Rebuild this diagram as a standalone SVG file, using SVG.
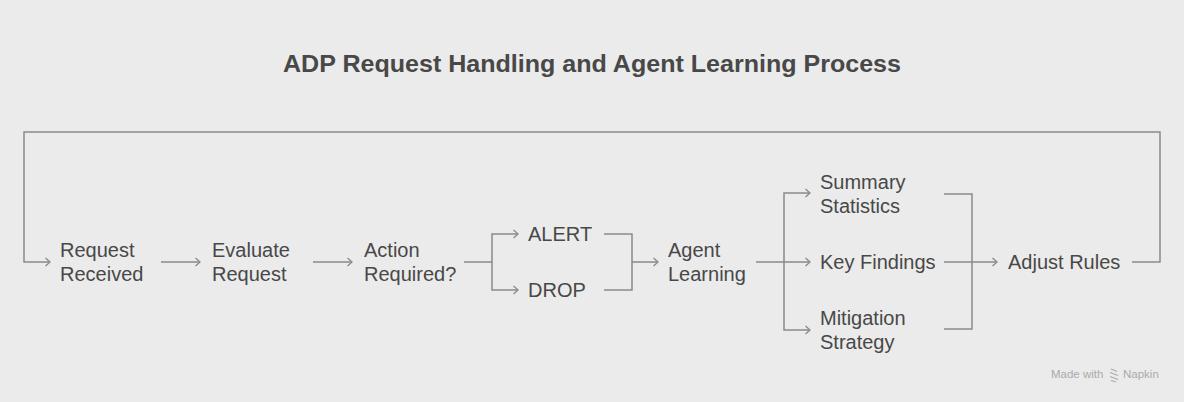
<svg xmlns="http://www.w3.org/2000/svg" width="1184" height="402" viewBox="0 0 1184 402">
<style>
.t{font-family:"Liberation Sans",Arial,sans-serif;font-size:20px;fill:#484848}
.ttl{font-family:"Liberation Sans",Arial,sans-serif;font-size:23.5px;font-weight:bold;fill:#484848}
.c{fill:none;stroke:#8a8a8a;stroke-width:1.5}
.a{marker-end:url(#ah)}
.wm{font-family:"Liberation Sans",Arial,sans-serif;font-size:11.5px;fill:#aaaaaa}
</style>
<defs>
<marker id="ah" viewBox="0 0 10 10" refX="9" refY="5" markerWidth="10" markerHeight="10" markerUnits="userSpaceOnUse" orient="auto">
<path d="M4.5,1 L9,5 L4.5,9" fill="none" stroke="#8a8a8a" stroke-width="1.3"/>
</marker>
</defs>
<rect width="1184" height="402" fill="#ebebeb"/>
<text class="ttl" x="592" y="72" text-anchor="middle" textLength="618" lengthAdjust="spacingAndGlyphs">ADP Request Handling and Agent Learning Process</text>
<g id="connectors">
<path class="c a" d="M1132,262 H1160 V132 H24 V262 H50"/>
<path class="c a" d="M161,262 H200"/>
<path class="c a" d="M313,262 H352"/>
<path class="c" d="M464,262 H492"/>
<path class="c a" d="M492,262 V234 H518"/>
<path class="c a" d="M492,262 V290 H518"/>
<path class="c" d="M604,234 H632 V290 H604"/>
<path class="c a" d="M632,262 H658"/>
<path class="c" d="M756,262 H784"/>
<path class="c a" d="M784,262 V193 H810"/>
<path class="c a" d="M784,262 H810"/>
<path class="c a" d="M784,262 V330 H810"/>
<path class="c" d="M944,194 H972 V329 H944"/>
<path class="c a" d="M944,262 H997"/>
</g>
<g id="n-request-received"><text class="t" x="60" y="257">Request</text><text class="t" x="60" y="281">Received</text></g>
<g id="n-evaluate-request"><text class="t" x="212" y="257">Evaluate</text><text class="t" x="212" y="281">Request</text></g>
<g id="n-action-required"><text class="t" x="364" y="257">Action</text><text class="t" x="364" y="281">Required?</text></g>
<g id="n-alert"><text class="t" x="528" y="241">ALERT</text></g>
<g id="n-drop"><text class="t" x="528" y="297">DROP</text></g>
<g id="n-agent-learning"><text class="t" x="668" y="257">Agent</text><text class="t" x="668" y="281">Learning</text></g>
<g id="n-summary-statistics"><text class="t" x="820" y="189">Summary</text><text class="t" x="820" y="213">Statistics</text></g>
<g id="n-key-findings"><text class="t" x="820" y="269">Key Findings</text></g>
<g id="n-mitigation-strategy"><text class="t" x="820" y="325">Mitigation</text><text class="t" x="820" y="349">Strategy</text></g>
<g id="n-adjust-rules"><text class="t" x="1008" y="269">Adjust Rules</text></g>
<g id="watermark">
<text class="wm" x="1051" y="378">Made with</text>
<path d="M1111,369 L1117,371.5 M1110,372.5 L1118,375.5 M1110,376.5 L1118,379.5 M1111,380.5 L1116,382" stroke="#aaaaaa" stroke-width="1.2" fill="none"/>
<text class="wm" x="1123" y="378">Napkin</text>
</g>
</svg>
